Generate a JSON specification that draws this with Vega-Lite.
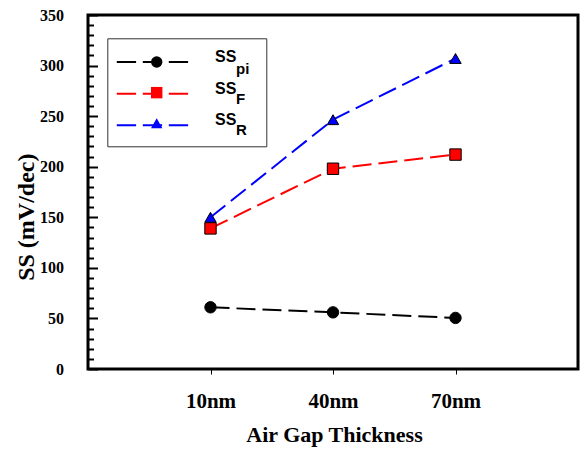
{
  "$schema": "https://vega.github.io/schema/vega-lite/v6.json",
  "width": 490,
  "height": 354,
  "autosize": {"type": "none"},
  "padding": {"left": 88, "top": 15, "right": 3, "bottom": 81},
  "background": "white",
  "config": {"view": {"stroke": "black", "strokeWidth": 3}},
  "data": {"values": [
    {"thickness": "10nm", "ss": 61, "series": "pi"},
    {"thickness": "40nm", "ss": 56, "series": "pi"},
    {"thickness": "70nm", "ss": 50.5, "series": "pi"},
    {"thickness": "10nm", "ss": 150, "series": "R"},
    {"thickness": "40nm", "ss": 246.5, "series": "R"},
    {"thickness": "70nm", "ss": 307, "series": "R"},
    {"thickness": "10nm", "ss": 139, "series": "F"},
    {"thickness": "40nm", "ss": 198, "series": "F"},
    {"thickness": "70nm", "ss": 212, "series": "F"}
  ]},
  "encoding": {
    "x": {
      "field": "thickness", "type": "ordinal", "sort": ["10nm", "40nm", "70nm"],
      "scale": {"type": "point", "padding": 1},
      "axis": {
        "title": "Air Gap Thickness", "labelAngle": 0, "domain": false, "grid": false,
        "tickSize": 5, "tickWidth": 1, "tickColor": "black",
        "labelFont": "Liberation Serif", "labelFontSize": 21, "labelFontWeight": "bold", "labelColor": "black", "labelPadding": 16,
        "titleFont": "Liberation Serif", "titleFontSize": 22, "titleFontWeight": "bold", "titleColor": "black",
        "titleBaseline": "alphabetic", "titleY": 72.5, "titleX": 246, "titleAlign": "center"
      }
    }
  },
  "layer": [
    {
      "mark": {"type": "line", "strokeWidth": 2, "strokeDash": [19, 7]},
      "encoding": {
        "y": {
          "field": "ss", "type": "quantitative", "scale": {"domain": [0, 350], "nice": false},
          "axis": {
            "orient": "left", "values": [0, 50, 100, 150, 200, 250, 300, 350],
            "domain": false, "grid": false, "tickSize": -9.5, "tickWidth": 2, "tickColor": "black",
            "labelFont": "Liberation Serif", "labelFontSize": 16, "labelFontWeight": "bold", "labelColor": "black",
            "labelPadding": 34, "labelFlush": false, "labelOverlap": false,
            "title": "SS (mV/dec)", "titleFont": "Liberation Serif", "titleFontSize": 24, "titleFontWeight": "bold", "titleColor": "black",
            "titleAngle": 270, "titleBaseline": "alphabetic", "titleAlign": "center", "titleX": -54.5, "titleY": 201.7
          }
        },
        "stroke": {
          "field": "series", "type": "nominal",
          "scale": {"domain": ["pi", "F", "R"], "range": ["#000000", "#ff0000", "#0000ff"]},
          "legend": {
            "orient": "none", "legendX": 56.8, "legendY": 39, "title": null, "padding": 0,
            "symbolType": "M-6,0H6", "symbolSize": 144, "symbolStrokeWidth": 2, "symbolDash": [19.3, 6.7],
            "labelExpr": "'SS'", "labelOffset": 54.2, "labelFont": "Liberation Sans", "labelFontSize": 16,
            "labelFontWeight": "bold", "labelColor": "black", "labelBaseline": "alphabetic", "rowPadding": 14.65
          }
        }
      }
    },
    {
      "mark": {"type": "point", "filled": true, "size": 130, "stroke": "black", "strokeWidth": 1, "opacity": 1},
      "encoding": {
        "y": {
          "field": "ss", "type": "quantitative", "scale": {"domain": [0, 350], "nice": false},
          "axis": {
            "orient": "left",
            "values": [10, 20, 30, 40, 60, 70, 80, 90, 110, 120, 130, 140, 160, 170, 180, 190, 210, 220, 230, 240, 260, 270, 280, 290, 310, 320, 330, 340],
            "domain": false, "grid": false, "tickSize": -5.5, "tickWidth": 2, "tickColor": "black",
            "labels": false, "title": null
          }
        },
        "fill": {
          "field": "series", "type": "nominal",
          "scale": {"domain": ["pi", "F", "R"], "range": ["#000000", "#ff0000", "#0000ff"]},
          "legend": {
            "orient": "none", "legendX": 60.7, "legendY": 39, "title": null, "padding": 0,
            "symbolSize": 130, "symbolStrokeWidth": 1, "symbolStrokeColor": "black",
            "labelExpr": "''", "labelFontSize": 16, "labelBaseline": "middle", "rowPadding": 14.65
          }
        },
        "shape": {
          "field": "series", "type": "nominal",
          "scale": {"domain": ["pi", "F", "R"], "range": ["circle", "square", "triangle-up"]},
          "legend": {
            "orient": "none", "legendX": 60.7, "legendY": 39, "title": null, "padding": 0,
            "symbolSize": 130, "symbolStrokeWidth": 1, "symbolStrokeColor": "black",
            "labelExpr": "''", "labelFontSize": 16, "labelBaseline": "middle", "rowPadding": 14.65
          }
        }
      }
    },
    {
      "mark": {"type": "point", "opacity": 0},
      "encoding": {
        "y": {"field": "ss", "type": "quantitative", "scale": {"domain": [0, 350], "nice": false}, "axis": null},
        "color": {
          "field": "series", "type": "nominal",
          "scale": {"domain": ["pi", "F", "R"], "range": ["#000000", "#ff0000", "#0000ff"]},
          "legend": {
            "orient": "none", "legendX": 19.3, "legendY": 23.3, "title": null, "padding": 8.2,
            "strokeColor": "#333333",
            "symbolOpacity": 0, "symbolSize": 900, "symbolStrokeWidth": 0, "symbolType": "square", "symbolOffset": 112,
            "labelOffset": -21.5, "labelFont": "Liberation Sans", "labelFontSize": 15, "labelFontWeight": "bold",
            "labelColor": "black", "labelBaseline": "top", "rowPadding": 0.65
          }
        }
      }
    }
  ],
  "resolve": {
    "axis": {"y": "independent"},
    "legend": {"stroke": "independent", "fill": "independent", "shape": "independent", "color": "independent"}
  }
}
